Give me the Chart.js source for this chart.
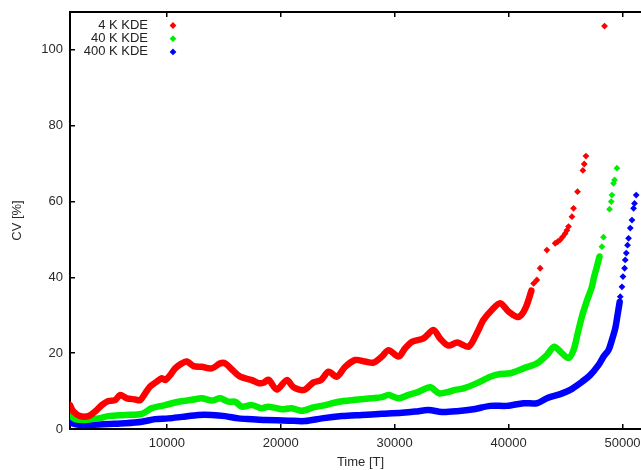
<!DOCTYPE html>
<html><head><meta charset="utf-8">
<script src="https://cdn.jsdelivr.net/npm/chart.js@4.4.0/dist/chart.umd.min.js"></script>
<style>
html,body{margin:0;padding:0;overflow:hidden;background:#fff;width:641px;height:470px}
#wrap{width:680px;height:470px}
</style>
</head><body><div id="wrap"><canvas id="c" width="680" height="470"></canvas></div>
<script>
// ---- data ----
const seriesNames = ['4 K KDE', '40 K KDE', '400 K KDE'];
const seriesColors = ['#ff0000', '#00ee00', '#0000ff'];

const xTickValues = [10000, 20000, 30000, 40000, 50000];
const yTickValues = [0, 20, 40, 60, 80, 100];

// 4 K KDE: dense band
const time4kBand = [1500,1800,2390,3120,3700,4290,4870,5460,5900,6490,7220,7660,8100,8530,9120,9560,9850,10290,10730,11320,11760,12340,13070,13950,14680,15120,15710,16440,17460,18040,18480,18920,19660,20530,21120,22050,22870,23530,24190,24930,25650,26530,27410,28140,28880,29460,30340,30920,31510,32530,33410,34000,34720,35500,36480,37220,37800,38530,39260,39990,40730,41100,41500,41800,42000];
const cv4kBand   = [6.3,4.6,3.4,3.4,4.6,6.3,7.4,7.6,9.0,8.1,7.8,7.6,9.4,11.2,12.5,13.4,12.9,14.2,16.0,17.3,17.8,16.6,16.4,16.0,17.3,17.3,15.7,13.8,12.9,12.1,12.2,13.0,10.4,12.9,11.0,10.3,12.3,12.9,15.1,13.8,16.4,18.2,17.8,17.5,19.1,20.8,19.1,21.3,23.0,23.9,26.1,23.8,22.0,22.8,21.7,25.3,28.8,31.4,33.2,31.0,29.6,30.0,32.0,34.5,36.5];
// 4 K KDE: sparse points
const time4kDots = [42200,42480,42770,43360,44090,44310,44530,44750,44970,45120,45260,45560,45700,46050,46520,46640,46790,48420];
const cv4kDots   = [38.4,39.3,42.4,47.2,49.0,49.4,49.9,50.7,51.6,52.4,53.4,56.0,58.2,62.6,68.2,69.9,72.0,106.3];

// 40 K KDE
const time40kBand = [1500,1950,2830,4000,4870,6340,7800,8680,9850,11020,12190,13070,13950,14680,15410,16000,16580,17460,18340,18920,20100,20970,21850,22870,23900,25070,26530,28000,28880,29460,30340,31220,32090,33120,33900,34720,35310,36040,37220,38390,39260,40140,41310,42480,43360,44000,44680,45260,45700,46050,46430,46870,47310,47510,47750,47980];
const cv40kBand   = [3.7,2.6,2.4,2.8,3.4,3.7,4.0,5.5,6.3,7.2,7.7,8.1,7.5,8.1,7.2,7.2,5.9,6.3,5.5,5.9,5.2,5.5,4.8,5.7,6.3,7.2,7.7,8.1,8.4,9.0,8.1,9.0,9.8,11.0,9.4,9.8,10.3,10.7,12.1,13.8,14.5,14.7,16.0,17.3,19.5,21.7,20.0,18.7,20.8,25.0,29.6,33.8,37.5,40.2,42.8,45.5];
const time40kDots = [48190,48330,48860,49010,49070,49210,49300,49510];
const cv40kDots   = [48.1,50.6,58.0,60.0,61.7,64.8,65.7,68.8];

// 400 K KDE
const time400kBand = [1500,2240,3410,4870,6340,7800,8970,10140,11320,12780,13950,15120,16290,17460,18630,20680,22140,23610,25370,27120,28880,30630,31800,32970,34140,35460,36920,38390,39850,41310,42480,43360,44530,45410,46290,47160,47900,48330,48770,49070,49360,49560,49750];
const cv400kBand   = [1.7,1.1,1.1,1.3,1.5,1.9,2.6,2.8,3.2,3.7,3.7,3.4,2.8,2.6,2.4,2.2,2.1,2.8,3.4,3.7,4.0,4.3,4.6,5.0,4.5,4.7,5.2,6.1,6.1,6.8,6.8,8.1,9.2,10.3,12.1,14.2,16.9,19.1,20.8,23.5,26.5,30.0,33.5];
const time400kDots = [49800,49950,50040,50180,50240,50330,50440,50530,50680,50830,50970,51050,51200];
const cv400kDots   = [34.9,37.5,40.2,42.4,44.6,46.4,48.5,50.3,53.0,55.1,58.2,59.5,61.7];

// ---- build datasets ----
const zip = (xs, ys) => xs.map((x, i) => ({x: x, y: ys[i]}));
const bands = [[time4kBand, cv4kBand], [time40kBand, cv40kBand], [time400kBand, cv400kBand]];
const dots = [[time4kDots, cv4kDots], [time40kDots, cv40kDots], [time400kDots, cv400kDots]];

const datasets = [];
seriesNames.forEach((name, i) => {
  datasets.push({
    label: name,
    data: zip(dots[i][0], dots[i][1]),
    showLine: false,
    pointStyle: 'rectRot',
    pointRadius: 3.4,
    pointBackgroundColor: seriesColors[i],
    pointBorderWidth: 0,
    backgroundColor: seriesColors[i],
    borderColor: seriesColors[i]
  });
  datasets.push({
    label: name + ' band',
    data: zip(bands[i][0], bands[i][1]),
    showLine: true,
    pointRadius: 0,
    borderWidth: 6.5,
    tension: 0.3,
    borderCapStyle: 'round',
    borderJoinStyle: 'round',
    borderColor: seriesColors[i],
    backgroundColor: seriesColors[i]
  });
});

Chart.defaults.font.family = '"Liberation Sans", Arial, sans-serif';
Chart.defaults.font.size = 13;
Chart.defaults.color = '#2a2a2a';

const setTicks = (vals) => (s) => { s.ticks = vals.map(v => ({value: v})); };
const plainLabel = (v) => String(v);

const legendPlugin = {
  id: 'kdeLegend',
  afterDatasetsDraw(chart) {
    const ctx = chart.ctx;
    const area = chart.chartArea;
    ctx.save();
    ctx.font = '13px "Liberation Sans", Arial, sans-serif';
    ctx.textAlign = 'right';
    ctx.textBaseline = 'middle';
    seriesNames.forEach((name, i) => {
      const y = area.top + 13.5 + i * 13.2;
      ctx.fillStyle = '#222';
      ctx.fillText(name, area.left + 78, y);
      ctx.fillStyle = seriesColors[i];
      Chart.helpers.drawPoint(ctx, {pointStyle: 'rectRot', radius: 3.4, borderWidth: 0, rotation: 0}, area.left + 103, y);
    });
    ctx.restore();
  }
};

const tickGrid = {drawOnChartArea: false, drawTicks: true, tickLength: -5, color: '#000', lineWidth: 1.5};
const axisBorder = {display: true, color: '#000', width: 2};
const noPadX = (h) => (s) => { s.height = h; s.paddingLeft = 0; s.paddingRight = 0; };

new Chart(document.getElementById('c'), {
  type: 'scatter',
  data: {datasets: datasets},
  plugins: [legendPlugin],
  options: {
    responsive: false,
    animation: false,
    events: [],
    layout: {padding: {top: 12, right: 29, left: 0, bottom: 0}},
    plugins: {legend: {display: false}, tooltip: {enabled: false}},
    scales: {
      x: {
        type: 'linear', position: 'bottom', min: 1500, max: 52500,
        afterBuildTicks: setTicks(xTickValues),
        afterFit: noPadX(41),
        grid: tickGrid, border: axisBorder,
        ticks: {padding: 12, maxRotation: 0, autoSkip: false, callback: plainLabel},
        title: {display: true, text: 'Time [T]', padding: {top: 0, bottom: 0}}
      },
      xTop: {
        type: 'linear', position: 'top', min: 1500, max: 52500,
        afterBuildTicks: setTicks(xTickValues),
        afterFit: noPadX(0),
        grid: tickGrid, border: axisBorder,
        ticks: {display: false}
      },
      y: {
        type: 'linear', position: 'left', min: 0, max: 110,
        afterBuildTicks: setTicks(yTickValues),
        afterFit: (s) => { s.width = 70; s.paddingTop = 0; s.paddingBottom = 0; },
        grid: tickGrid, border: axisBorder,
        ticks: {padding: 12, callback: plainLabel},
        title: {display: true, text: 'CV [%]', padding: {top: 10, bottom: 0}}
      }
    }
  }
});
</script>
</body></html>
